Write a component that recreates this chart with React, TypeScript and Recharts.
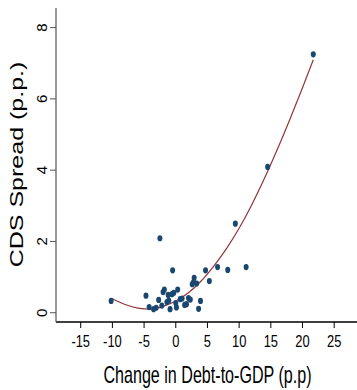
import React from "react";
import { ComposedChart, Scatter, Line, XAxis, YAxis } from "recharts";

// change in debt-to-GDP (p.p) vs CDS spread (p.p.)
const debtChange = [
  -10.2, -4.7, -4.2, -3.5, -3.1, -2.7, -2.5, -2.2, -2.0, -1.8,
  -1.4, -1.2, -1.1, -0.9, -0.6, -0.5, -0.3, 0.0, 0.1, 0.3,
  0.7, 1.0, 1.4, 1.7, 2.0, 2.3, 2.6, 2.8, 2.9, 3.3,
  3.6, 3.9, 4.7, 5.3, 6.6, 8.2, 9.4, 11.1, 14.5, 21.7,
];
const cdsSpread = [
  0.33, 0.48, 0.16, 0.1, 0.14, 0.36, 2.09, 0.2, 0.58, 0.65,
  0.3, 0.5, 0.34, 0.1, 0.52, 1.19, 0.56, 0.27, 0.15, 0.65,
  0.38, 0.4, 0.22, 0.24, 0.41, 0.37, 0.8, 0.86, 0.98, 0.82,
  0.11, 0.33, 1.19, 0.89, 1.28, 1.2, 2.5, 1.28, 4.09, 7.25,
];

// fitted curve
const fitX = [-10, -8, -6, -4, -2, 0, 2, 4, 6, 8, 10, 12, 14, 16, 18, 20, 21.7];
const fitY = [0.39, 0.23, 0.13, 0.1, 0.18, 0.33, 0.56, 0.89, 1.31, 1.8, 2.37, 3.03, 3.77, 4.57, 5.42, 6.31, 7.1];

const xTicks = [-15, -10, -5, 0, 5, 10, 15, 20, 25];
const yTicks = [0, 2, 4, 6, 8];

const points = debtChange.map((x, i) => ({ x, y: cdsSpread[i] }));
const fit = fitX.map((x, i) => ({ x, y: fitY[i] }));

const FONT = "'Liberation Sans', Arial, sans-serif";
const NAVY = "#1a476f";
const MAROON = "#90353b";

const XTick = ({ x, y, payload }: any) => (
  <text
    transform={`translate(${x},${y + 17}) scale(0.76,1)`}
    textAnchor="middle"
    fontFamily={FONT}
    fontSize={17}
    fill="#000"
  >
    {payload.value}
  </text>
);

const YTick = ({ y, payload }: any) => (
  <text
    transform={`translate(47,${y}) rotate(-90)`}
    textAnchor="middle"
    fontFamily={FONT}
    fontSize={15}
    fill="#000"
  >
    {payload.value}
  </text>
);

const Dot = ({ cx, cy }: any) => <ellipse cx={cx} cy={cy} rx={2.5} ry={3.1} fill={NAVY} />;

export default function App() {
  return (
    <div style={{ width: 357, height: 390 }}>
      <style>{`body{margin:0}`}</style>
      <ComposedChart width={357} height={390} margin={{ top: 8, right: 0, bottom: 0, left: 0 }}>
        <XAxis
          type="number"
          dataKey="x"
          domain={[-18.9, 28.6]}
          ticks={xTicks}
          height={68}
          tick={<XTick />}
          tickSize={6}
          axisLine={{ stroke: "#000", strokeWidth: 1.4 }}
          tickLine={{ stroke: "#000" }}
          allowDataOverflow
          label={{
            content: () => (
              <text
                transform="translate(207.5,383) scale(0.7,1)"
                textAnchor="middle"
                fontFamily={FONT}
                fontSize={23}
                fill="#000"
              >
                Change in Debt-to-GDP (p.p)
              </text>
            ),
          }}
        />
        <YAxis
          type="number"
          dataKey="y"
          domain={[-0.26, 8.55]}
          ticks={yTicks}
          width={56}
          tick={<YTick />}
          tickSize={6}
          axisLine={{ stroke: "#555", strokeWidth: 1.2 }}
          tickLine={{ stroke: "#555" }}
          allowDataOverflow
          label={{
            content: () => (
              <text
                transform="translate(23,164.5) rotate(-90) scale(1.39,1)"
                textAnchor="middle"
                fontFamily={FONT}
                fontSize={18}
                fill="#000"
              >
                CDS Spread (p.p.)
              </text>
            ),
          }}
        />
        <Scatter data={points} dataKey="y" shape={<Dot />} isAnimationActive={false} />
        <Line
          data={fit}
          dataKey="y"
          type="monotone"
          stroke={MAROON}
          strokeWidth={1.2}
          dot={false}
          activeDot={false}
          isAnimationActive={false}
        />
      </ComposedChart>
    </div>
  );
}
